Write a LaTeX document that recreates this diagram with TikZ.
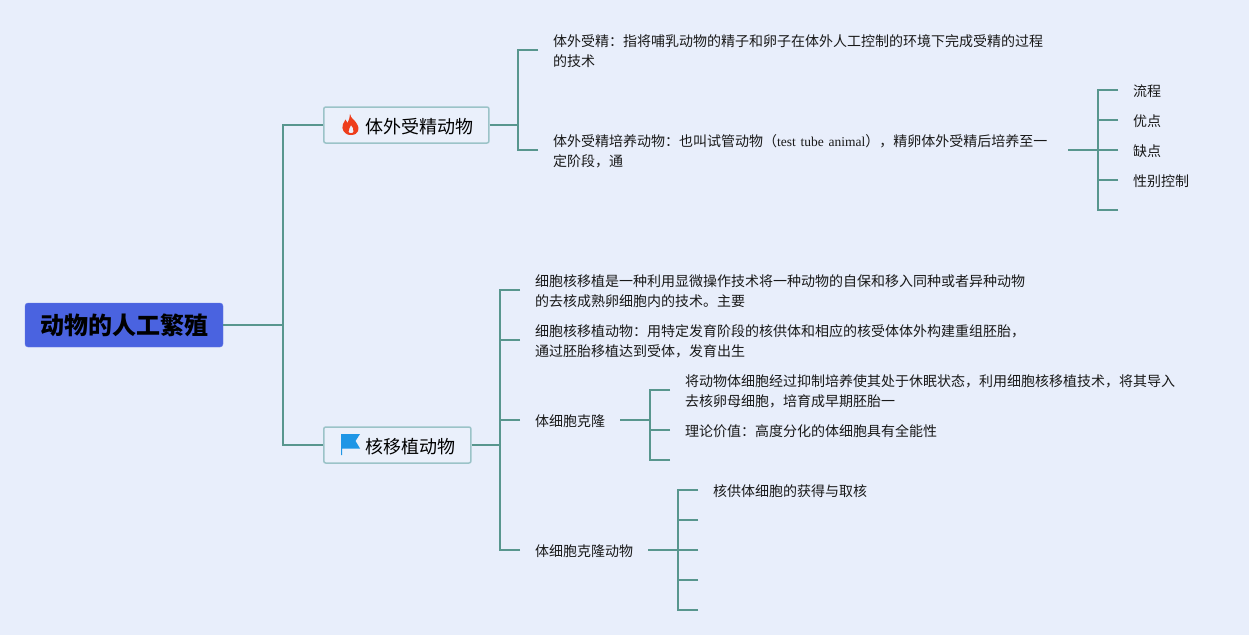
\documentclass[tikz,border=0pt]{standalone}
\usepackage{fontspec}
\setmainfont{Noto Sans CJK SC}
\newfontfamily\latinserif{Liberation Serif}
\definecolor{pagebg}{RGB}{232,238,251}
\definecolor{linkcol}{RGB}{88,150,142}
\definecolor{rootcol}{RGB}{74,99,224}
\definecolor{topicline}{RGB}{155,195,200}
\definecolor{topicfill}{RGB}{234,240,251}
\definecolor{flagcol}{RGB}{30,150,230}
\definecolor{flamecol}{RGB}{238,62,28}
\tikzset{
    link/.style={draw=linkcol,line width=1.5pt},
    rootbox/.style={fill=rootcol,draw=rootcol!85!white,rounded corners=3pt,minimum width=198pt,
        minimum height=44pt,inner sep=0pt,font=\fontsize{24}{24}\selectfont\bfseries},
    topic/.style={draw=topicline,fill=topicfill,line width=1.5pt,rounded corners=2pt,anchor=west,
        minimum height=36pt,inner xsep=15.2pt,inner ysep=0pt,font=\fontsize{18}{18}\selectfont,
        execute at begin node=\rule{0pt}{19pt}},
    leaf/.style={anchor=west,align=left,inner xsep=15pt,inner ysep=0pt,text=black!90,
        font=\fontsize{14}{20}\selectfont,execute at begin node=\rule{0pt}{15pt}},
    longleaf/.style={leaf,text width=500pt},
}
\begin{document}
\begin{tikzpicture}[x=1pt,y=-1pt]
    \fill[pagebg] (0,0) rectangle (1249,635);
    \useasboundingbox (0,0) rectangle (1249,635);
    %% Root and topics
    \node[rootbox] (root) at (124,325) {动物的人工繁殖};
    \node[topic] (ivf) at (323,125) {\hspace*{26.8pt}体外受精动物};
    \node[topic] (nt) at (323,445) {\hspace*{26.8pt}核移植动物};
    \coordinate (rootfork) at (283,325);
    \draw[link] (root.east) -- (rootfork);
    \draw[link] (ivf.west) -| (rootfork);
    \draw[link] (nt.west) -| (rootfork);
    %% Icons
    \begin{scope}[shift={(342,114)}]
        \fill[flamecol,even odd rule] (8,0) .. controls (9,5) and (13,6) .. (15,10)
            .. controls (18,14) and (17,21) .. (9,21) .. controls (2,21) and (-1,15) .. (1,10)
            .. controls (2,8) and (3,7) .. (3.5,5.5) .. controls (4.5,7) and (5,8) .. (5.5,9)
            .. controls (7,6) and (8,3) .. (8,0) -- cycle
            (9,11) .. controls (9,14) and (5.5,15) .. (6.5,18) .. controls (7,19.5) and (11,19.5) .. (11.5,18)
            .. controls (12.5,15) and (10,13) .. (9,11) -- cycle;
    \end{scope}
    \begin{scope}[shift={(341,434)}]
        \fill[flagcol] (0,0) -- (19,0) -- (14.5,7) -- (19,14.5) -- (1,14.5) -- (1,21) -- (0,21) -- cycle;
    \end{scope}
    %% In vitro branch
    \coordinate (ivffork) at (518,125);
    \node[longleaf] (ivfdef) at (538,50) {体外受精：指将哺乳动物的精子和卵子在体外人工控制的环境下完成受精的过程\\的技术};
    \node[longleaf] (ivfanimal) at (538,150)
        {体外受精培养动物：也叫试管动物（{\latinserif\fontsize{13.5}{20}\selectfont test tube animal}），精卵体外受精后培养至一\\定阶段，通};
    \draw[link] (ivf.east) -- (ivffork);
    \draw[link] (ivfdef.west) -| (ivffork);
    \draw[link] (ivfanimal.west) -| (ivffork);
    %% In vitro details
    \coordinate (ivfanimalfork) at (1098,150);
    \draw[link] (ivfanimal.east) -- (ivfanimalfork);
    \foreach \name/\ypos/\txt in {lc/90/流程,yd/120/优点,qd/150/缺点,xb/180/性别控制}{
        \node[leaf] (\name) at (1118,\ypos) {\txt};
        \draw[link] (\name.west) -| (ivfanimalfork);
    }
    \coordinate (ivfend) at (1118,210);
    \draw[link] (ivfend) -| (ivfanimalfork);
    %% Nuclear transfer branch
    \coordinate (ntfork) at (500,445);
    \node[longleaf] (ntdef) at (520,290) {细胞核移植是一种利用显微操作技术将一种动物的自保和移入同种或者异种动物\\的去核成熟卵细胞内的技术。主要};
    \node[longleaf] (ntanimal) at (520,340) {细胞核移植动物：用特定发育阶段的核供体和相应的核受体体外构建重组胚胎，\\通过胚胎移植达到受体，发育出生};
    \node[leaf] (clone) at (520,420) {体细胞克隆};
    \node[leaf] (cloneanimal) at (520,550) {体细胞克隆动物};
    \draw[link] (nt.east) -- (ntfork);
    \foreach \name in {ntdef,ntanimal,clone,cloneanimal}{
        \draw[link] (\name.west) -| (ntfork);
    }
    %% Clone details
    \coordinate (clonefork) at (650,420);
    \node[longleaf] (clonedef) at (670,390) {将动物体细胞经过抑制培养使其处于休眠状态，利用细胞核移植技术，将其导入\\去核卵母细胞，培育成早期胚胎一};
    \node[leaf] (clonevalue) at (670,430) {理论价值：高度分化的体细胞具有全能性};
    \coordinate (cloneend) at (670,460);
    \draw[link] (clone.east) -- (clonefork);
    \draw[link] (clonedef.west) -| (clonefork);
    \draw[link] (clonevalue.west) -| (clonefork);
    \draw[link] (cloneend) -| (clonefork);
    %% Clone animal details
    \coordinate (cloneanimalfork) at (678,550);
    \node[leaf] (donor) at (698,490) {核供体细胞的获得与取核};
    \draw[link] (cloneanimal.east) -- (cloneanimalfork);
    \draw[link] (donor.west) -| (cloneanimalfork);
    \foreach \ypos [count=\i] in {520,550,580,610}{
        \coordinate (stub\i) at (698,\ypos);
        \draw[link] (stub\i) -| (cloneanimalfork);
    }
\end{tikzpicture}
\end{document}
